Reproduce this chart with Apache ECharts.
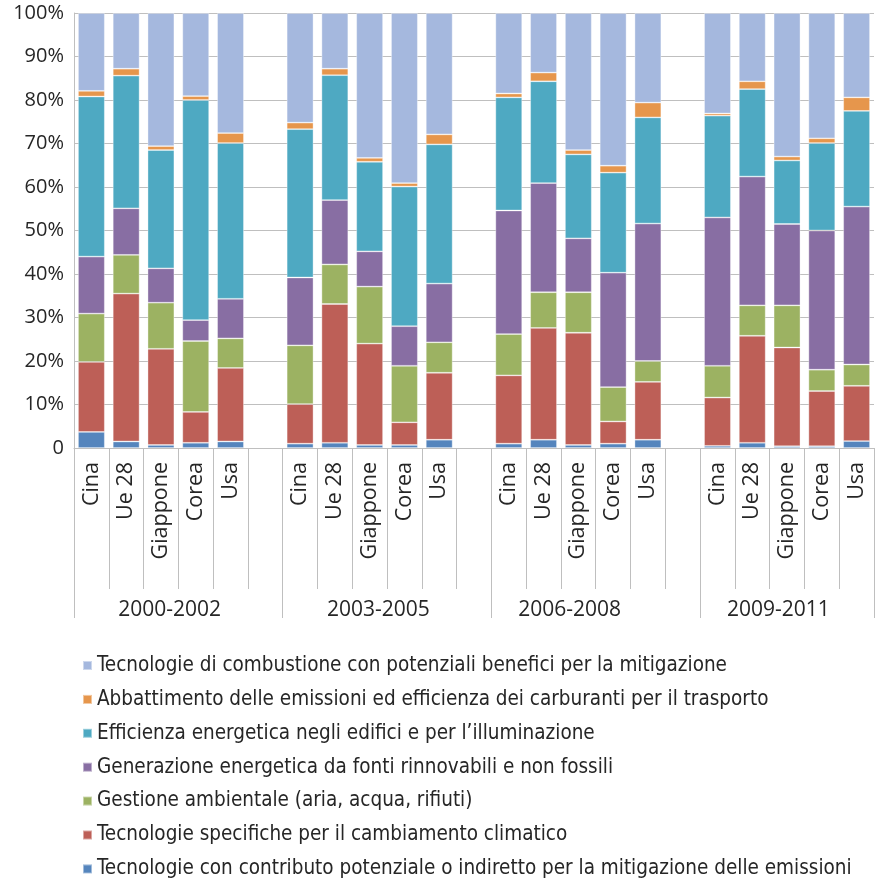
<!DOCTYPE html>
<html>
<head>
<meta charset="utf-8">
<script src="https://cdn.jsdelivr.net/npm/echarts@6/dist/echarts.min.js"></script>
<style>
  html, body { margin: 0; padding: 0; background: #ffffff; }
  #chart { width: 875px; height: 878px; }
</style>
</head>
<body>
<div id="chart"></div>
<script>
// Periods and countries (each period is a group of five bars)
const periods = ['2000-2002', '2003-2005', '2006-2008', '2009-2011'];
const countries = ['Cina', 'Ue 28', 'Giappone', 'Corea', 'Usa'];

// Shares (%) per technology, 20 values: 5 countries x 4 periods
const contributoIndiretto = [3.7, 1.5, 0.7, 1.2, 1.5,   1.0, 1.2, 0.7, 0.7, 1.9,   1.0, 1.9, 0.7, 1.0, 1.9,   0.5, 1.2, 0.4, 0.4, 1.6];
const specificheClima     = [16.1, 34.0, 22.1, 7.1, 16.9,  9.1, 31.9, 23.3, 5.2, 15.4,  15.7, 25.7, 25.8, 5.1, 13.3,  11.1, 24.6, 22.7, 12.7, 12.7];
const gestioneAmbientale  = [11.1, 8.9, 10.6, 16.3, 6.8,  13.5, 9.1, 13.1, 13.0, 7.0,  9.5, 8.2, 9.3, 7.9, 4.8,  7.3, 7.0, 9.7, 4.9, 4.9];
const rinnovabili         = [13.1, 10.7, 7.9, 4.8, 9.1,  15.6, 14.8, 8.1, 9.1, 13.5,  28.4, 25.1, 12.4, 26.3, 31.6,  34.1, 29.6, 18.7, 32.0, 36.3];
const efficienzaEdifici   = [36.8, 30.5, 27.2, 50.6, 35.8,  34.1, 28.7, 20.6, 32.1, 32.0,  26.0, 23.4, 19.3, 23.0, 24.4,  23.4, 20.1, 14.6, 20.1, 22.0];
const trasporto           = [1.3, 1.6, 0.9, 0.9, 2.3,  1.5, 1.5, 0.9, 0.8, 2.3,  0.9, 2.0, 1.0, 1.6, 3.4,  0.5, 1.8, 0.9, 1.1, 3.1];
const combustione         = [17.9, 12.8, 30.6, 19.1, 27.6,  25.2, 12.8, 33.3, 39.1, 27.9,  18.5, 13.7, 31.5, 35.1, 20.6,  23.1, 15.7, 33.0, 28.8, 19.4];

const yTicks = [0, 10, 20, 30, 40, 50, 60, 70, 80, 90, 100];

// Series names, bottom of the stack first
const seriesNames = [
  'Tecnologie con contributo potenziale o indiretto per la mitigazione delle emissioni',
  'Tecnologie specifiche per il cambiamento climatico',
  'Gestione ambientale (aria, acqua, rifiuti)',
  'Generazione energetica da fonti rinnovabili e non fossili',
  'Efficienza energetica negli edifici e per l\u2019illuminazione',
  'Abbattimento delle emissioni ed efficienza dei carburanti per il trasporto',
  'Tecnologie di combustione con potenziali benefici per la mitigazione'
];
const seriesValues = [contributoIndiretto, specificheClima, gestioneAmbientale, rinnovabili, efficienzaEdifici, trasporto, combustione];
const seriesColors = ['#5585BD', '#BD5F57', '#9CB262', '#886EA3', '#4EA9C2', '#E6964C', '#A5B8DE'];

// Category axis: five countries per period, one empty slot between periods
const categories = [];
const groupStartIdx = [];
periods.forEach((p, gi) => {
  groupStartIdx.push(categories.length);
  countries.forEach((c) => categories.push(c));
  if (gi < periods.length - 1) categories.push('');
});

// Period axis at half-slot resolution, so each period name sits under its bars
const halfSlotLabelIdx = [5, 17, 28, 40];
const periodAxisData = [];
for (let i = 0; i < categories.length * 2; i++) {
  const k = halfSlotLabelIdx.indexOf(i);
  periodAxisData.push(k !== -1 ? periods[k] : '');
}
const periodTickIdx = groupStartIdx.map((i) => i * 2);

function withGaps(values) {
  const out = [];
  periods.forEach((p, gi) => {
    for (let ci = 0; ci < countries.length; ci++) out.push(values[gi * countries.length + ci]);
    if (gi < periods.length - 1) out.push('-');
  });
  return out;
}

const textColor = '#262626';
const lineColor = '#BFBFBF';
const fontFamily = '"Open Sans", "Noto Sans", sans-serif';

const chart = echarts.init(document.getElementById('chart'), null, { renderer: 'canvas' });

chart.setOption({
  animation: false,
  backgroundColor: '#ffffff',
  grid: { left: 74, right: 1, top: 13, bottom: 430, containLabel: false },
  legend: {
    orient: 'vertical',
    left: 77,
    top: 650,
    height: 240,
    itemWidth: 9,
    itemHeight: 9,
    itemGap: 12.9,
    icon: 'rect',
    data: seriesNames.slice().reverse(),
    textStyle: { color: textColor, fontSize: 20.5, fontFamily: '"Liberation Sans Narrow", "DejaVu Sans Condensed", sans-serif' }
  },
  xAxis: [
    {
      type: 'category',
      data: categories,
      position: 'bottom',
      axisLine: { show: true, lineStyle: { color: lineColor, width: 1 } },
      axisTick: { show: true, interval: 0, length: 141, lineStyle: { color: lineColor } },
      axisLabel: {
        interval: 0, rotate: 90, margin: 14,
        color: textColor, fontSize: 21.5, fontFamily: fontFamily
      }
    },
    {
      type: 'category',
      data: periodAxisData,
      position: 'bottom',
      axisLine: { show: false },
      axisTick: {
        show: true, length: 170,
        interval: (index) => periodTickIdx.indexOf(index) !== -1,
        lineStyle: { color: lineColor }
      },
      axisLabel: {
        interval: 0, margin: 152,
        color: textColor, fontSize: 21, fontFamily: fontFamily
      }
    }
  ],
  yAxis: {
    type: 'value',
    min: yTicks[0],
    max: yTicks[yTicks.length - 1],
    interval: yTicks[1] - yTicks[0],
    axisLine: { show: true, lineStyle: { color: lineColor } },
    axisTick: { show: false },
    splitLine: { show: true, lineStyle: { color: lineColor, width: 1 } },
    axisLabel: {
      margin: 10,
      color: textColor, fontSize: 20, fontFamily: fontFamily,
      formatter: (v) => (v === 0 ? '0' : v + '%')
    }
  },
  series: seriesNames.map((name, i) => ({
    name: name,
    type: 'bar',
    stack: 'quota',
    xAxisIndex: 0,
    barCategoryGap: '23%',
    data: withGaps(seriesValues[i]),
    itemStyle: { color: seriesColors[i], borderColor: 'rgba(255,255,255,0.45)', borderWidth: 0.8 },
    emphasis: { disabled: true }
  }))
});
</script>
</body>
</html>
